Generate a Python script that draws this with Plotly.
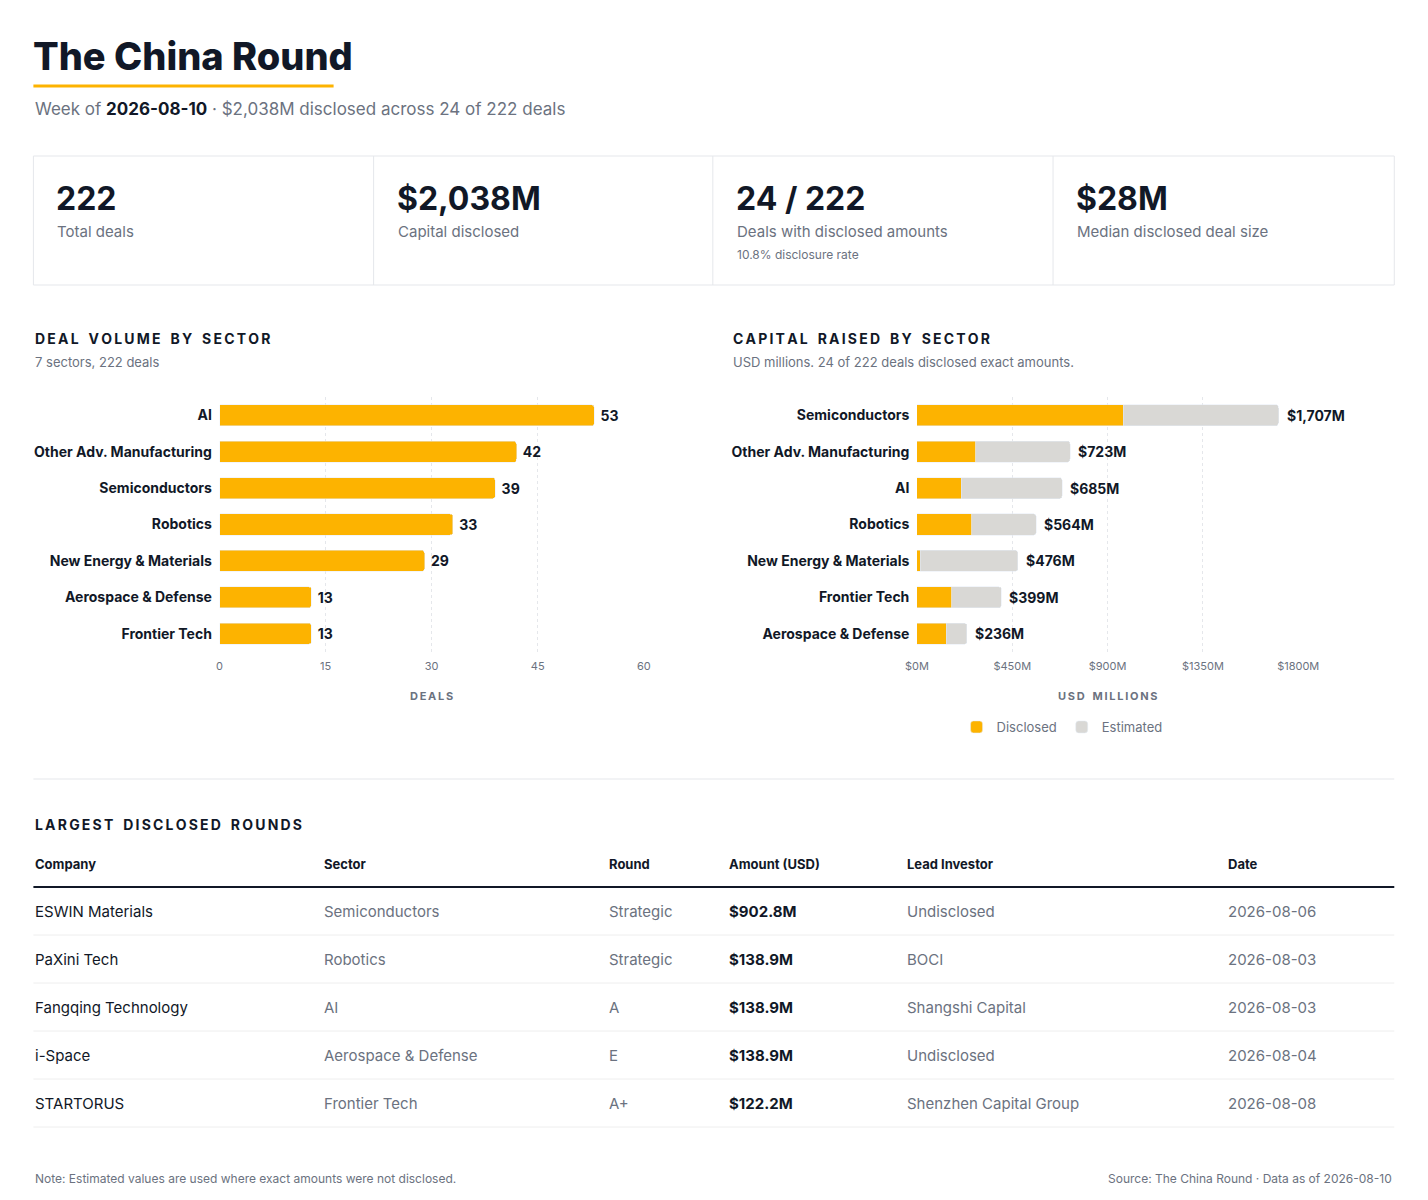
import plotly.graph_objects as go

W, H = 1412, 1184
YELLOW = '#FDB300'
GREY_BAR = '#D9D8D5'
DARK = '#111827'
MUTED = '#6B7280'
LINE = '#E5E7EB'
FONT = 'Inter'

# deal volume by sector
vol_sectors = ['AI', 'Other Adv. Manufacturing', 'Semiconductors', 'Robotics',
               'New Energy & Materials', 'Aerospace & Defense', 'Frontier Tech']
vol_deals = [53, 42, 39, 33, 29, 13, 13]

# capital raised by sector (USD millions)
cap_sectors = ['Semiconductors', 'Other Adv. Manufacturing', 'AI', 'Robotics',
               'New Energy & Materials', 'Frontier Tech', 'Aerospace & Defense']
cap_total = [1707, 723, 685, 564, 476, 399, 236]
cap_disclosed = [975, 278, 208, 258, 15, 165, 139]
cap_estimated = [t - d for t, d in zip(cap_total, cap_disclosed)]

kpi_values = ['222', '$2,038M', '24 / 222', '$28M']
kpi_labels = ['Total deals', 'Capital disclosed', 'Deals with disclosed amounts', 'Median disclosed deal size']
kpi_notes = ['', '', '10.8% disclosure rate', '']

table_cols = ['Company', 'Sector', 'Round', 'Amount (USD)', 'Lead Investor', 'Date']
companies = ['ESWIN Materials', 'PaXini Tech', 'Fangqing Technology', 'i-Space', 'STARTORUS']
sectors = ['Semiconductors', 'Robotics', 'AI', 'Aerospace & Defense', 'Frontier Tech']
rounds = ['Strategic', 'Strategic', 'A', 'E', 'A+']
amounts = ['$902.8M', '$138.9M', '$138.9M', '$138.9M', '$122.2M']
investors = ['Undisclosed', 'BOCI', 'Shangshi Capital', 'Undisclosed', 'Shenzhen Capital Group']
dates = ['2026-08-06', '2026-08-03', '2026-08-03', '2026-08-04', '2026-08-08']


# page pixel -> paper coords (body margin + horizontal correction seen in render)
def px(x):
    x = (x - 12.8) / 0.976
    return (x - 8) / W


def py(y):
    return 1 - (y - 8) / H


def spaced(s):
    return '   '.join('\u2009'.join(w) for w in s.split(' '))


fig = go.Figure()
fig.add_trace(go.Bar(y=vol_sectors, x=vol_deals, orientation='h', marker_color=YELLOW,
                     text=['<b> %d</b>' % v for v in vol_deals], textposition='outside',
                     textfont=dict(size=14, color=DARK), cliponaxis=False,
                     showlegend=False, xaxis='x', yaxis='y', hoverinfo='skip'))
fig.add_trace(go.Bar(y=cap_sectors, x=cap_disclosed, orientation='h', marker_color=YELLOW,
                     name='Disclosed', xaxis='x2', yaxis='y2'))
fig.add_trace(go.Bar(y=cap_sectors, x=cap_estimated, orientation='h', marker_color=GREY_BAR,
                     name='Estimated', xaxis='x2', yaxis='y2'))

ann = []
shapes = []


def text(x, y, s, size, color=DARK, anchor='left', weight=None):
    f = dict(family=FONT, size=size, color=color)
    if weight:
        f['weight'] = weight
    ann.append(dict(x=px(x), y=py(y), xref='paper', yref='paper', text=s, showarrow=False,
                    xanchor=anchor, yanchor='middle', font=f))


def hline(x0, x1, y, color, width):
    shapes.append(dict(type='line', xref='paper', yref='paper', x0=px(x0), x1=px(x1),
                       y0=py(y), y1=py(y), line=dict(color=color, width=width)))


for s, t in zip(cap_sectors, cap_total):
    ann.append(dict(x=t, y=s, xref='x2', yref='y2', text='<b>$%sM</b>' % format(t, ','),
                    showarrow=False, xanchor='left', xshift=6,
                    font=dict(family=FONT, size=14, color=DARK)))

# header
text(32, 56, 'The China Round', 38, weight=800)
hline(34, 334, 86, YELLOW, 3)
text(34, 109, 'Week of <b style="color:#111827">2026-08-10</b> · $2,038M disclosed across 24 of 222 deals', 17, MUTED)

# KPI cards
shapes.append(dict(type='rect', xref='paper', yref='paper', x0=px(34), x1=px(1394), y0=py(156), y1=py(285),
                   line=dict(color=LINE, width=1)))
card_x = [34, 374, 713, 1053]
for i in range(4):
    if i > 0:
        shapes.append(dict(type='line', xref='paper', yref='paper', x0=px(card_x[i]), x1=px(card_x[i]),
                           y0=py(156), y1=py(285), line=dict(color=LINE, width=1)))
    text(card_x[i] + 21, 198, kpi_values[i], 32, weight=700)
    text(card_x[i] + 22, 231, kpi_labels[i], 15, MUTED)
    if kpi_notes[i]:
        text(card_x[i] + 22, 254, kpi_notes[i], 12, MUTED)

# chart headings
text(34, 338, '<b>%s</b>' % spaced('DEAL VOLUME BY SECTOR'), 14)
text(34, 362, '7 sectors, 222 deals', 13, MUTED)
text(731, 338, '<b>%s</b>' % spaced('CAPITAL RAISED BY SECTOR'), 14)
text(731, 362, 'USD millions. 24 of 222 deals disclosed exact amounts.', 13, MUTED)
text(432, 696, '<b>%s</b>' % spaced('DEALS'), 11, MUTED, 'center')
text(1108, 696, '<b>%s</b>' % spaced('USD MILLIONS'), 11, MUTED, 'center')

hline(34, 1394, 779, LINE, 1)

# table
text(34, 824, '<b>%s</b>' % spaced('LARGEST DISCLOSED ROUNDS'), 14)
col_x = [34, 322, 607, 727, 905, 1226]
for cx, c in zip(col_x, table_cols):
    text(cx, 864, '<b>%s</b>' % c, 13)
hline(34, 1394, 887, DARK, 2)
for r in range(len(companies)):
    yy = 911 + 48 * r
    row = [companies[r], sectors[r], rounds[r], '<b>%s</b>' % amounts[r], investors[r], dates[r]]
    colors = [DARK, MUTED, MUTED, DARK, MUTED, MUTED]
    for cx, v, c in zip(col_x, row, colors):
        text(cx, yy, v, 15, c)
    hline(34, 1394, yy + 24, '#EEEEEE', 1)

text(34, 1178, 'Note: Estimated values are used where exact amounts were not disclosed.', 12, MUTED)
text(1394, 1178, 'Source: The China Round · Data as of 2026-08-10', 12, MUTED, 'right')

ydom = [py(652), py(397)]
axis_common = dict(showgrid=True, gridcolor='#E5E7EB', griddash='dot', zeroline=False,
                   tickfont=dict(size=11, color=MUTED), ticks='', showline=False, fixedrange=True,
                   ticklabelstandoff=6)
fig.update_layout(
    width=W, height=H, margin=dict(l=0, r=0, t=0, b=0),
    paper_bgcolor='white', plot_bgcolor='white',
    font=dict(family=FONT, color=DARK),
    barmode='stack', bargap=0.42,
    xaxis=dict(domain=[px(220), px(644)], range=[0, 60], tickvals=[0, 15, 30, 45, 60], anchor='y', **axis_common),
    yaxis=dict(domain=ydom, autorange='reversed', anchor='x', ticksuffix='  ',
               tickfont=dict(size=14, color=DARK, weight='bold'), showgrid=False, fixedrange=True),
    xaxis2=dict(domain=[px(917), px(1298)], range=[0, 1800], tickvals=[0, 450, 900, 1350, 1800],
                ticktext=['$0M', '$450M', '$900M', '$1350M', '$1800M'], anchor='y2', **axis_common),
    yaxis2=dict(domain=ydom, autorange='reversed', anchor='x2', ticksuffix='  ',
                tickfont=dict(size=14, color=DARK, weight='bold'), showgrid=False, fixedrange=True),
    legend=dict(orientation='h', x=px(1062), xanchor='center', y=py(727), yanchor='middle',
                traceorder='normal', font=dict(size=13, color=MUTED), itemwidth=30),
    annotations=ann, shapes=shapes,
)
fig.update_traces(marker_cornerradius=3, selector=dict(type='bar'))

fig.write_html('out.html')
